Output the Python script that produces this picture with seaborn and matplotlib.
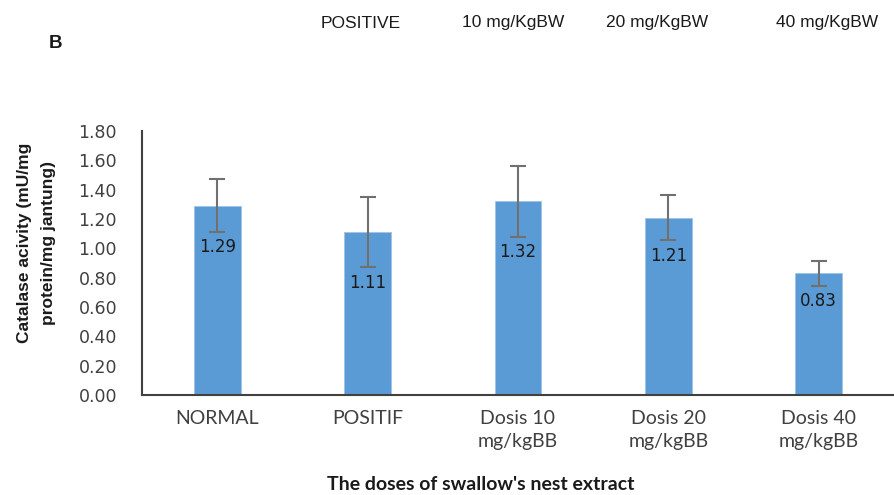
import matplotlib
matplotlib.use("Agg")
import matplotlib.pyplot as plt
import seaborn as sns
import pandas as pd
import numpy as np

categories = ["NORMAL", "POSITIF", "Dosis 10\nmg/kgBB", "Dosis 20\nmg/kgBB", "Dosis 40\nmg/kgBB"]
values = [1.29, 1.11, 1.32, 1.21, 0.83]
errors = [0.18, 0.24, 0.24, 0.155, 0.085]
value_labels = ["1.29", "1.11", "1.32", "1.21", "0.83"]
yticks = [0.0, 0.2, 0.4, 0.6, 0.8, 1.0, 1.2, 1.4, 1.6, 1.8]
header_labels = ["POSITIVE", "10 mg/KgBW", "20 mg/KgBW", "40 mg/KgBW"]

sns.set_style("white")
plt.rcParams['font.family'] = ['DejaVu Sans']

df = pd.DataFrame({"group": categories, "value": values})

fig = plt.figure(figsize=(8.94, 4.95), dpi=100)
ax = fig.add_axes([142/894, 1-395/495, 1-142/894, (395-131)/495])

sns.barplot(data=df, x="group", y="value", color="#5B9BD5", saturation=1,
            width=0.31, ax=ax, errorbar=None, edgecolor="#9DC3E6", linewidth=0.6)
xs = np.arange(len(categories))
ax.errorbar(xs, values, yerr=errors, fmt="none", ecolor="#707070",
            elinewidth=1.5, capsize=6, capthick=1.5, zorder=5)

for x, v, e, lab in zip(xs, values, errors, value_labels):
    ax.annotate(lab, xy=(x, v - e), xytext=(0, -11), textcoords="offset points",
                ha="center", va="center", fontsize=12, color="#1a1a1a", zorder=6)

ax.set_ylim(0, 1.8)
ax.set_xlim(-0.5, len(categories) - 0.5)
ax.set_yticks(yticks)
ax.set_yticklabels([f"{t:.2f}" for t in yticks], fontsize=12.5, color="#404040")
ax.set_xticks(xs)
ax.set_xticklabels(categories, fontsize=14, color="#404040", family=["Lato", "DejaVu Sans"],
                   linespacing=1.4)
ax.tick_params(axis="both", length=0)
ax.tick_params(axis="x", pad=11)
ax.tick_params(axis="y", pad=18)
ax.set_xlabel("")
ax.set_ylabel("")
for s in ["top", "right"]:
    ax.spines[s].set_visible(False)
for s in ["left", "bottom"]:
    ax.spines[s].set_color("#404040")
    ax.spines[s].set_linewidth(1.5)

fig.text(481/894, 1-484/495, "The doses of swallow's nest extract", ha="center", va="center",
         fontsize=14, fontweight="bold", family=["Lato", "DejaVu Sans"], color="#1a1a1a")
fig.text(37/894, 1-243/495, "Catalase acivity (mU/mg\nprotein/mg jantung)", ha="center", va="center",
         rotation=90, fontsize=12.5, fontweight="bold", family=["Liberation Sans Narrow", "Liberation Sans"],
         color="#1a1a1a", linespacing=1.75)

fig.text(55/894, 1-44/495, "B", ha="center", va="center", fontsize=13.5, fontweight="bold",
         family=["Liberation Sans", "DejaVu Sans"], color="#1a1a1a")
header_x = [361, 513, 657, 827]
for hx, h in zip(header_x, header_labels):
    fig.text(hx/894, 1-23/495, h, ha="center", va="center", fontsize=12.5,
             family=["Liberation Sans Narrow", "Liberation Sans"], color="#1a1a1a")

fig.savefig("out.png", dpi=100)
